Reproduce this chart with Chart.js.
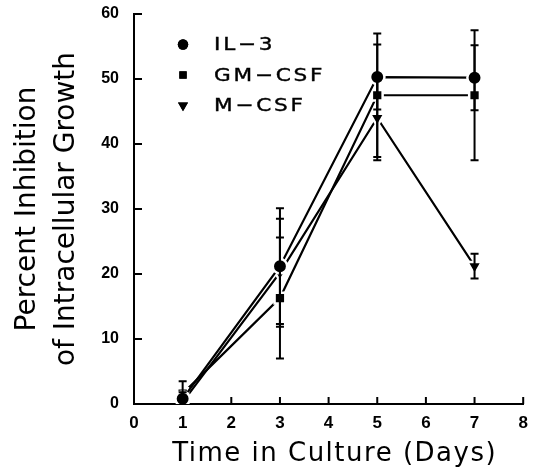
<!DOCTYPE html>
<html>
<head>
<meta charset="utf-8">
<script src="https://cdn.jsdelivr.net/npm/chart.js@4/dist/chart.umd.min.js"></script>
<style>
html,body{margin:0;padding:0;background:#fff;}
#wrap{width:534px;height:467px;position:relative;}
</style>
</head>
<body>
<div id="wrap"><canvas id="c" width="534" height="467"></canvas></div>
<script>
// ---- data ----
const days = [1, 3, 5, 7];
const seriesNames = ["IL\u22123", "GM\u2212CSF", "M\u2212CSF"];
const il3 = [0.8, 21.2, 50.3, 50.2];
const il3Err = [1.0, 8.9, 5.0, 5.0];
const gmcsf = [1.6, 16.3, 47.5, 47.5];
const gmcsfErr = [1.9, 9.3, 9.5, 10.0];
const mcsf = [0.3, 20.2, 44.0, 21.2];
const mcsfErr = [0.5, 8.3, 6.5, 1.9];
const xTicks = [0, 1, 2, 3, 4, 5, 6, 7, 8];
const yTicks = [0, 10, 20, 30, 40, 50, 60];
const xTitle = "Time in Culture (Days)";
const yTitle = ["Percent Inhibition", "of Intracellular Growth"];

const toPts = (vals) => days.map((d, i) => ({x: d, y: vals[i]}));

const styles = [
  {pointStyle: 'circle', radius: 7.2, legendRadius: 5.2, rotation: 0},
  {pointStyle: 'rect', radius: 7.6, legendRadius: 5.2, rotation: 0},
  {pointStyle: 'triangle', radius: 8.3, legendRadius: 5.8, rotation: 180}
];
const values = [il3, gmcsf, mcsf];
const errs = [il3Err, gmcsfErr, mcsfErr];

const datasets = values.map((v, k) => ({
  label: seriesNames[k],
  data: toPts(v),
  errors: errs[k],
  legendRadius: styles[k].legendRadius,
  borderColor: '#000',
  backgroundColor: '#000',
  borderWidth: 2.2,
  pointStyle: styles[k].pointStyle,
  pointRadius: styles[k].radius,
  pointRotation: styles[k].rotation,
  pointBackgroundColor: '#000',
  pointBorderColor: '#fff',
  pointBorderWidth: 2.5,
  tension: 0,
  fill: false
}));

const errorBars = {
  id: 'errorBars',
  afterDatasetsDraw(chart) {
    const ctx = chart.ctx, xs = chart.scales.x, ys = chart.scales.y;
    ctx.save();
    ctx.strokeStyle = '#000';
    ctx.lineWidth = 2;
    chart.data.datasets.forEach(ds => {
      ds.data.forEach((p, i) => {
        const e = ds.errors[i];
        const px = xs.getPixelForValue(p.x);
        const yt = ys.getPixelForValue(p.y + e);
        const yb = ys.getPixelForValue(Math.max(0, p.y - e));
        ctx.beginPath();
        ctx.moveTo(px, yt); ctx.lineTo(px, yb);
        ctx.moveTo(px - 4, yt); ctx.lineTo(px + 4, yt);
        if (p.y - e > 0) { ctx.moveTo(px - 4, yb); ctx.lineTo(px + 4, yb); }
        ctx.stroke();
      });
    });
    ctx.restore();
  }
};

const innerTicks = {
  id: 'innerTicks',
  afterDraw(chart) {
    const ctx = chart.ctx, xs = chart.scales.x, ys = chart.scales.y, a = chart.chartArea;
    ctx.save();
    ctx.strokeStyle = '#000';
    ctx.lineWidth = 2;
    ctx.beginPath();
    xTicks.forEach(t => {
      if (t === 0) return;
      const px = xs.getPixelForValue(t);
      ctx.moveTo(px, a.bottom); ctx.lineTo(px, a.bottom - 7);
    });
    yTicks.forEach(t => {
      if (t === 0) return;
      const py = ys.getPixelForValue(t);
      ctx.moveTo(a.left, py); ctx.lineTo(a.left + 8, py);
    });
    ctx.stroke();
    ctx.restore();
  }
};

const innerLegend = {
  id: 'innerLegend',
  afterDraw(chart) {
    const ctx = chart.ctx, a = chart.chartArea;
    ctx.save();
    ctx.fillStyle = '#000';
    chart.data.datasets.forEach((ds, k) => {
      const y = a.top + 30.5 + k * 30.5;
      const x = a.left + 49;
      ctx.beginPath();
      Chart.helpers.drawPoint(ctx, {
        pointStyle: ds.pointStyle,
        radius: ds.legendRadius,
        rotation: ds.pointRotation,
        borderWidth: 0
      }, x, y);
      ctx.fill();
      ctx.save();
      ctx.translate(a.left + 80, y);
      ctx.scale(1.2, 1);
      ctx.font = '18px "DejaVu Sans"';
      try { ctx.letterSpacing = '2.3px'; } catch (e) {}
      ctx.textBaseline = 'middle';
      ctx.textAlign = 'left';
      ctx.fillText(ds.label, 0, 1);
      ctx.lineWidth = 0.4;
      ctx.strokeStyle = '#000';
      ctx.strokeText(ds.label, 0, 1);
      ctx.restore();
    });
    ctx.restore();
  }
};

function spacedTitle(spacing, dx, dy) {
  return function (s) {
    if (!s._spacedTitle) {
      const orig = s.drawTitle.bind(s);
      s.drawTitle = function () {
        const ctx = s.ctx;
        ctx.save();
        try { ctx.letterSpacing = spacing; } catch (e) {}
        ctx.translate(dx, dy);
        orig();
        ctx.restore();
      };
      s._spacedTitle = true;
    }
  };
}

new Chart(document.getElementById('c'), {
  type: 'line',
  data: {datasets},
  options: {
    responsive: false,
    animation: false,
    devicePixelRatio: 1,
    layout: {padding: {top: 14, right: 5, left: 0, bottom: 0}},
    plugins: {legend: {display: false}, tooltip: {enabled: false}},
    scales: {
      x: {
        type: 'linear', min: 0, max: 8,
        afterBuildTicks: s => { s.ticks = xTicks.map(v => ({value: v})); },
        afterFit: s => { s.height = 63; s.paddingLeft = 0; s.paddingRight = 0; spacedTitle('1.5px', 6, 3)(s); },
        grid: {drawOnChartArea: false, drawTicks: false},
        border: {color: '#000', width: 2},
        ticks: {color: '#000', padding: 9, font: {family: '"Liberation Sans"', size: 17, weight: 'bold'}, maxRotation: 0},
        title: {display: true, text: xTitle, color: '#000',
          font: {family: '"DejaVu Sans"', size: 26, lineHeight: 1.1}, padding: {top: 0, bottom: 1}}
      },
      y: {
        type: 'linear', min: 0, max: 60,
        afterBuildTicks: s => { s.ticks = yTicks.map(v => ({value: v})); },
        afterFit: s => { s.width = 134; s.paddingTop = 0; s.paddingBottom = 0; },
        grid: {drawOnChartArea: false, drawTicks: false},
        border: {color: '#000', width: 2},
        ticks: {color: '#000', padding: 15, font: {family: '"Liberation Sans"', size: 16, weight: 'bold'}},
        title: {display: true, text: yTitle, color: '#000',
          font: {family: '"DejaVu Sans"', size: 28, lineHeight: 1.4}, padding: {top: 8, bottom: 0}}
      }
    }
  },
  plugins: [errorBars, innerTicks, innerLegend]
});
</script>
</body>
</html>
